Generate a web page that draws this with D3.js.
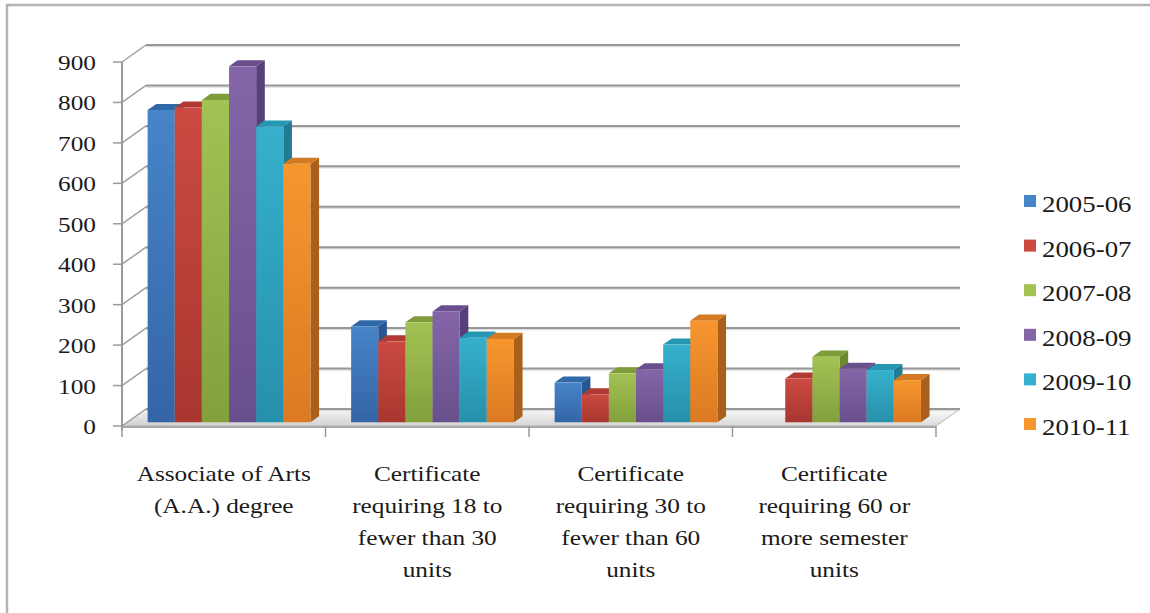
<!DOCTYPE html>
<html>
<head>
  <meta charset="UTF-8">
  <title>Awards by year</title>
  <script src="https://d3js.org/d3.v7.min.js"></script>
  <style>
    body { margin:0; background:#fff; }
    text { font-family:"Liberation Serif","Times New Roman",Times,"DejaVu Serif",serif; fill:#1a1a1a; }
  </style>
</head>
<body>
<div id="chart"></div>
<script>
// data
const categories = ['Associate of Arts (A.A.) degree',
  'Certificate requiring 18 to fewer than 30 units',
  'Certificate requiring 30 to fewer than 60 units',
  'Certificate requiring 60 or more semester units'];
const categoryLines = [
  ['Associate of Arts','(A.A.) degree'],
  ['Certificate','requiring 18 to','fewer than 30','units'],
  ['Certificate','requiring 30 to','fewer than 60','units'],
  ['Certificate','requiring 60 or','more semester','units']
];
const seriesNames = ['2005-06','2006-07','2007-08','2008-09','2009-10','2010-11'];
const s0506 = [772, 237, 98, 0];
const s0607 = [778, 200, 69, 108];
const s0708 = [797, 247, 121, 162];
const s0809 = [880, 274, 131, 132];
const s0910 = [731, 209, 192, 129];
const s1011 = [639, 206, 251, 104];
const yTicks = [0,100,200,300,400,500,600,700,800,900];

const seriesValues = [s0506, s0607, s0708, s0809, s0910, s1011];
// front / top / side shades per series
const colors = [
  {hi:'#4784c8', lo:'#3465a6', top:'#2f69a8', side:'#285690'},
  {hi:'#cb4a42', lo:'#a8372f', top:'#b03a33', side:'#8a2c27'},
  {hi:'#a3c254', lo:'#82a03c', top:'#7f9c3b', side:'#6b8731'},
  {hi:'#8466a8', lo:'#68508c', top:'#6a4f8d', side:'#56407a'},
  {hi:'#36b0cc', lo:'#2790aa', top:'#2597b2', side:'#1f7c93'},
  {hi:'#f7962e', lo:'#db7a22', top:'#d47a22', side:'#aa601b'}
];
const FONT = '"Liberation Serif", "Times New Roman", Times, "DejaVu Serif", serif';

const W = 1150, H = 613;
const DX = 24, DY = -17;       // depth vector of the floor
const T0 = 0.22, T1 = 0.58;    // bar depth span

const svg = d3.select('#chart').append('svg')
  .attr('width', W).attr('height', H);

const defs = svg.append('defs');
colors.forEach((c,i) => {
  const g = defs.append('linearGradient').attr('id','g'+i)
    .attr('x1',0).attr('y1',0).attr('x2',0).attr('y2',1);
  g.append('stop').attr('offset','0%').attr('stop-color',c.hi);
  g.append('stop').attr('offset','100%').attr('stop-color',c.lo);
});
const fg = defs.append('linearGradient').attr('id','floor')
  .attr('x1',0).attr('y1',1).attr('x2',0.3).attr('y2',0);
fg.append('stop').attr('offset','0%').attr('stop-color','#cfcfcf');
fg.append('stop').attr('offset','100%').attr('stop-color','#f6f6f6');

const x0 = d3.scaleBand().domain(categories).range([122, 936]);
const x1 = d3.scaleBand().domain(seriesNames).range([0, x0.bandwidth()])
  .paddingInner(0).paddingOuter(0.75);
const y = d3.scaleLinear().domain([0, 900]).range([426, 62]);

const P = (x, v, t) => [x + t*DX, y(v) + t*DY];
const poly = pts => pts.map(p => p.join(',')).join(' ');

// outer frame
svg.append('path').attr('d', `M7,${H} L7,5 L${W},5`)
  .attr('fill','none').attr('stroke','#b4b4b4').attr('stroke-width',2.5);

// floor
const xl = x0.range()[0], xr = x0.range()[1];
svg.append('polygon')
  .attr('points', poly([P(xl,0,0), P(xr,0,0), P(xr,0,1), P(xl,0,1)]))
  .attr('fill','url(#floor)').attr('stroke','#b8b8b8').attr('stroke-width',1);
svg.append('line')
  .attr('x1', xl).attr('x2', xr).attr('y1', y(0)+1).attr('y2', y(0)+1)
  .attr('stroke','#a8a8a8').attr('stroke-width',2);

// back wall gridlines + side wall diagonals
const grid = svg.append('g');
yTicks.forEach(v => {
  const a = P(xl,v,1), b = P(xr,v,1), c = P(xl,v,0);
  grid.append('line').attr('x1',a[0]).attr('y1',a[1]+1.5).attr('x2',b[0]).attr('y2',b[1]+1.5)
    .attr('stroke','#dedede').attr('stroke-width',1.5);
  grid.append('line').attr('x1',a[0]).attr('y1',a[1]).attr('x2',b[0]).attr('y2',b[1])
    .attr('stroke','#979797').attr('stroke-width',2);
  grid.append('line').attr('x1',c[0]).attr('y1',c[1]).attr('x2',a[0]).attr('y2',a[1])
    .attr('stroke','#a0a0a0').attr('stroke-width',1.5);
});

// bars, drawn left to right so each front face hides the previous side face
const bars = svg.append('g');
categories.forEach((cat, ci) => {
  seriesNames.forEach((s, si) => {
    const v = seriesValues[si][ci];
    if (!v) return;
    const xa = x0(cat) + x1(s), xb = xa + x1.bandwidth();
    const f0 = P(xa, v, T0), f1 = P(xb, 0, T0);
    bars.append('polygon')
      .attr('points', poly([P(xb,0,T0), P(xb,v,T0), P(xb,v,T1), P(xb,0,T1)]))
      .attr('fill', colors[si].side);
    bars.append('polygon')
      .attr('points', poly([P(xa,v,T0), P(xb,v,T0), P(xb,v,T1), P(xa,v,T1)]))
      .attr('fill', colors[si].top);
    bars.append('rect')
      .attr('x', f0[0]).attr('y', f0[1])
      .attr('width', f1[0]-f0[0]).attr('height', f1[1]-f0[1])
      .attr('fill', `url(#g${si})`);
  });
});

// front value axis
const ax = svg.append('g');
ax.append('line').attr('x1',xl).attr('x2',xl).attr('y1',y(900)).attr('y2',y(0)+4)
  .attr('stroke','#9a9a9a').attr('stroke-width',2);
yTicks.forEach(v => {
  ax.append('line').attr('x1',xl-9).attr('x2',xl).attr('y1',y(v)).attr('y2',y(v))
    .attr('stroke','#9a9a9a').attr('stroke-width',1.5);
  ax.append('text')
    .attr('transform', `translate(96,${y(v)+8}) scale(1.15,1)`)
    .attr('text-anchor','end').attr('font-family', FONT).style('font-size','22px')
    .text(v);
});

// category ticks and labels
x0.domain().concat([null]).forEach(c => {
  const xx = c === null ? xr : x0(c);
  ax.append('line').attr('x1',xx).attr('x2',xx).attr('y1',y(0)).attr('y2',y(0)+11)
    .attr('stroke','#9a9a9a').attr('stroke-width',1.5);
});
categories.forEach((c, ci) => {
  const cx = x0(c) + x0.bandwidth()/2;
  categoryLines[ci].forEach((ln, li) => {
    ax.append('text')
      .attr('transform', `translate(${cx},${481 + li*32}) scale(1.15,1)`)
      .attr('text-anchor','middle').attr('font-family', FONT).style('font-size','22px')
      .text(ln);
  });
});

// legend
const lg = svg.append('g');
seriesNames.forEach((s, i) => {
  const ly = 204 + i*44.6;
  lg.append('rect').attr('x',1024).attr('y',ly-9).attr('width',12).attr('height',12)
    .attr('fill', colors[i].hi);
  lg.append('text')
    .attr('transform', `translate(1042,${ly+8}) scale(1.12,1)`)
    .attr('font-family', FONT).style('font-size','24px')
    .text(s);
});
</script>
</body>
</html>
